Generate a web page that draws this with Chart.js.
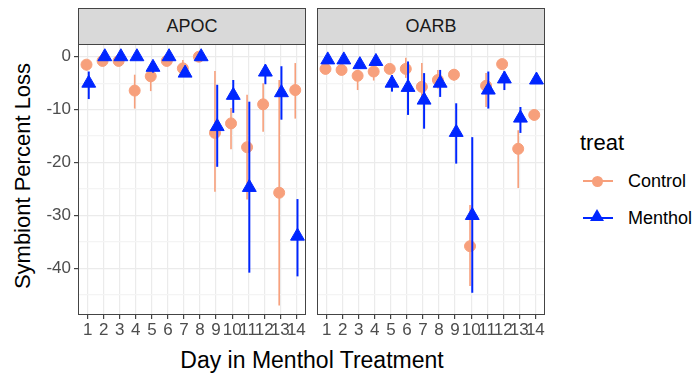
<!DOCTYPE html>
<html>
<head>
<meta charset="utf-8">
<script src="https://cdn.jsdelivr.net/npm/chart.js@4"></script>
<style>
  body { margin: 0; background: #fff; font-family: 'Liberation Sans', Arial, sans-serif; }
  #wrap { position: relative; width: 696px; height: 377px; overflow: hidden; }
  .box { position: absolute; }
  canvas { display: block; }
  .strip { position: absolute; top: 8px; height: 37px; width: 228px; box-sizing: border-box;
           background: #d9d9d9; border: 1px solid #444; color: #1a1a1a; font-size: 18px;
           text-align: center; line-height: 35px; }
  .ytitle { position: absolute; left: 23px; top: 176px; transform: translate(-50%, -50%) rotate(-90deg);
            font-size: 22px; white-space: nowrap; color: #000; }
  .xtitle { position: absolute; left: 312px; top: 360px; transform: translate(-50%, -50%);
            font-size: 23px; white-space: nowrap; color: #000; }
  .ltitle { position: absolute; left: 580px; top: 130px; font-size: 22px; color: #000; }
  .lline { position: absolute; left: 583px; width: 30px; height: 2px; }
  .ltext { position: absolute; left: 628px; font-size: 18px; color: #000; line-height: 20px; }
</style>
</head>
<body>
<div id="wrap">
  <div class="box" style="left:40px; top:44px; width:272px; height:296px;"><canvas id="apoc" width="272" height="296"></canvas></div>
  <div class="box" style="left:312px; top:44px; width:240px; height:296px;"><canvas id="oarb" width="240" height="296"></canvas></div>
  <div class="strip" style="left:78px;">APOC</div>
  <div class="strip" style="left:317px;">OARB</div>
  <div class="ytitle">Symbiont Percent Loss</div>
  <div class="xtitle">Day in Menthol Treatment</div>
  <div class="ltitle">treat</div>
  <div class="lline" style="top:180px; background:#f7a07c;"></div>
  <div style="position:absolute; left:592px; top:176px; width:11px; height:11px; border-radius:50%; background:#f7a07c;"></div>
  <div class="ltext" style="top:171px;">Control</div>
  <div class="lline" style="top:217px; background:#0026ff;"></div>
  <div style="position:absolute; left:590px; top:209px; width:0; height:0; border-left:7px solid transparent; border-right:7px solid transparent; border-bottom:12px solid #0026ff;"></div>
  <div class="ltext" style="top:208px;">Menthol</div>
</div>
<script>
var days = [1, 2, 3, 4, 5, 6, 7, 8, 9, 10, 11, 12, 13, 14];
var yTicks = [0, -10, -20, -30, -40];

var apocCtrl   = [-1.5, -0.8, -0.8, -6.4, -3.7, -0.8, -2.2, 0.0, -14.4, -12.6, -17.1, -9.0, -25.7, -6.3];
var apocCtrlLo = [-2.6, -1.3, -1.5, -9.8, -6.5, -1.3, -3.4, -0.6, -25.5, -17.5, -27.0, -14.2, -47.0, -11.7];
var apocCtrlHi = [-0.6, -0.3, -0.2, -3.4, -2.0, -0.3, -0.6, 0.5, -2.7, -9.7, -7.2, -5.0, -4.4, -1.2];

var apocMent   = [-5.0, 0.0, 0.0, 0.0, -2.0, 0.0, -3.1, 0.0, -13.2, -7.3, -24.7, -2.9, -6.8, -33.9];
var apocMentLo = [-8.0, -0.5, -0.5, -0.5, -3.0, -0.5, -3.6, -0.5, -20.8, -10.6, -40.8, -5.2, -11.9, -41.5];
var apocMentHi = [-2.8, 0.5, 0.5, 0.5, -1.0, 0.5, -2.6, 0.5, -5.3, -4.4, -8.5, -1.5, -1.8, -26.9];

var oarbCtrl   = [-2.3, -2.5, -3.6, -2.8, -2.3, -2.3, -5.7, -4.4, -3.4, -35.8, -5.5, -1.4, -17.4, -11.0];
var oarbCtrlLo = [-3.3, -3.5, -6.3, -4.5, -3.0, -4.0, -7.6, -6.0, -4.5, -43.3, -9.5, -2.3, -24.8, -12.0];
var oarbCtrlHi = [-1.3, -1.5, -2.5, -1.5, -1.5, -0.2, -1.2, -2.5, -2.3, -28.0, -3.1, -0.5, -13.9, -10.0];

var oarbMent   = [-0.6, -0.6, -1.5, -0.9, -5.0, -5.8, -8.2, -5.0, -14.3, -30.0, -6.3, -4.2, -11.6, -4.4];
var oarbMentLo = [-1.2, -1.2, -2.2, -1.5, -6.6, -11.0, -13.6, -7.6, -20.2, -44.6, -9.8, -6.3, -14.4, -5.0];
var oarbMentHi = [0.0, 0.0, -0.8, -0.3, -3.5, -0.9, -3.1, -2.5, -8.8, -15.2, -2.8, -2.8, -9.5, -3.8];

var ctrlColor = '#f7a07c';
var mentColor = '#0026ff';

function series(vals, lo, hi, shift) {
  return days.map(function (d, i) {
    return { x: d + shift, y: vals[i], lo: lo[i], hi: hi[i] };
  });
}

// vertical ranges drawn just before each dataset's points (ggplot pointrange order)
var errorBars = {
  id: 'errorBars',
  beforeDatasetDraw: function (chart, args) {
    var ds = chart.data.datasets[args.index];
    var ctx = chart.ctx, x = chart.scales.x, y = chart.scales.y;
    ctx.save();
    ctx.strokeStyle = ds.barColor;
    ctx.lineWidth = ds.barWidth;
    ds.data.forEach(function (p) {
      var px = x.getPixelForValue(p.x);
      ctx.beginPath();
      ctx.moveTo(px, y.getPixelForValue(p.lo));
      ctx.lineTo(px, y.getPixelForValue(p.hi));
      ctx.stroke();
    });
    ctx.restore();
  }
};

var panelBorder = {
  id: 'panelBorder',
  afterDraw: function (chart) {
    var a = chart.chartArea, ctx = chart.ctx;
    ctx.save();
    ctx.strokeStyle = '#444';
    ctx.lineWidth = 1;
    ctx.strokeRect(a.left + 0.5, a.top + 0.5, a.right - a.left - 1, a.bottom - a.top - 1);
    ctx.restore();
  }
};

function makeChart(id, ctrl, ctrlLo, ctrlHi, ment, mentLo, mentHi, showY, pad) {
  return new Chart(document.getElementById(id), {
    type: 'scatter',
    data: {
      datasets: [{
        label: 'Control',
        data: series(ctrl, ctrlLo, ctrlHi, -0.07),
        order: 2,
        pointStyle: 'circle',
        pointRadius: 5.5,
        backgroundColor: ctrlColor,
        borderColor: ctrlColor,
        borderWidth: 1,
        barColor: ctrlColor,
        barWidth: 1.6
      }, {
        label: 'Menthol',
        data: series(ment, mentLo, mentHi, 0.07),
        order: 1,
        pointStyle: 'triangle',
        pointRadius: 8,
        backgroundColor: mentColor,
        borderColor: mentColor,
        borderWidth: 1,
        barColor: mentColor,
        barWidth: 2
      }]
    },
    options: {
      responsive: false,
      animation: false,
      layout: { padding: pad, autoPadding: false },
      plugins: { legend: { display: false }, tooltip: { enabled: false } },
      scales: {
        x: {
          type: 'linear',
          min: 0.4,
          max: 14.6,
          afterBuildTicks: function (axis) {
            axis.ticks = days.map(function (d) { return { value: d }; });
          },
          afterFit: function (axis) {
            axis.height = 25;
            axis.paddingLeft = 0;
            axis.paddingRight = 0;
          },
          grid: { color: '#ebebeb', lineWidth: 1.2, tickLength: 4, tickColor: '#444' },
          border: { display: false },
          ticks: { autoSkip: false, maxRotation: 0, padding: 1, color: '#4d4d4d',
                   font: { family: 'Liberation Sans', size: 17 } }
        },
        y: {
          min: -48.8,
          max: 2.4,
          afterBuildTicks: function (axis) {
            var t = [];
            for (var v = 0; v >= -45; v -= 5) t.push({ value: v });
            axis.ticks = t;
          },
          afterFit: function (axis) {
            axis.width = showY ? 38 : 0;
            axis.paddingTop = 0;
            axis.paddingBottom = 0;
          },
          grid: {
            color: function (c) { return c.tick && c.tick.value % 10 === 0 ? '#ebebeb' : '#f4f4f4'; },
            lineWidth: 1.2,
            drawTicks: showY,
            tickLength: 4,
            tickColor: function (c) { return c.tick && c.tick.value % 10 === 0 ? '#444' : 'rgba(0,0,0,0)'; }
          },
          border: { display: false },
          ticks: {
            display: showY,
            padding: 3,
            color: '#4d4d4d',
            font: { family: 'Liberation Sans', size: 17 },
            callback: function (v) { return yTicks.indexOf(v) >= 0 ? String(v) : ''; }
          }
        }
      }
    },
    plugins: [errorBars, panelBorder]
  });
}

makeChart('apoc', apocCtrl, apocCtrlLo, apocCtrlHi, apocMent, apocMentLo, apocMentHi, true,
  { top: 0, right: 6, left: 0, bottom: 0 });
makeChart('oarb', oarbCtrl, oarbCtrlLo, oarbCtrlHi, oarbMent, oarbMentLo, oarbMentHi, false,
  { top: 0, right: 7, left: 5, bottom: 0 });
</script>
</body>
</html>
